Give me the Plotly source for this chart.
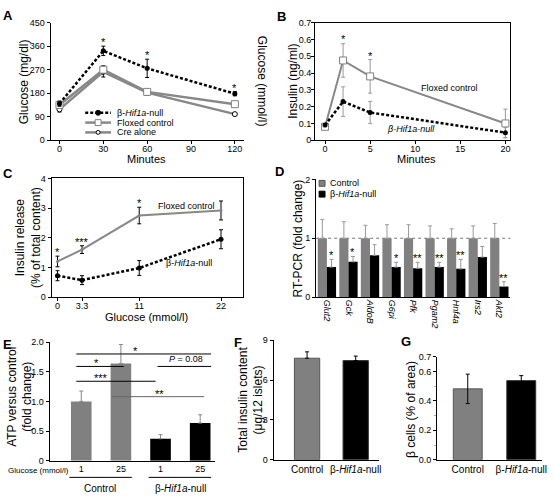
import plotly.graph_objects as go

W, H = 555, 500
def px(x): return x / W
def py(y): return 1 - y / H

FONT = "Liberation Sans, Arial, Helvetica, sans-serif"
GREY = "#808080"
LINEGREY = "#888888"

# ---------------- Panel A: glucose tolerance ----------------
a_minutes = [0, 30, 60, 120]
a_null = [140, 342, 275, 178]
a_null_err = [10, 18, 35, 8]
a_floxed = [135, 270, 185, 138]
a_floxed_err = [8, 15, 10, 5]
a_cre = [118, 262, 182, 100]
a_cre_err = [10, 20, 10, 4]
a_star_x = [30, 60, 120]
a_star_y = [360, 310, 185]
a_legend = ["β-<i>Hif1a</i>-null", "Floxed control", "Cre alone"]

# ---------------- Panel B: insulin in vivo ----------------
b_minutes = [0, 2, 5, 20]
b_floxed = [0.08, 0.475, 0.38, 0.10]
b_floxed_err = [0.01, 0.10, 0.10, 0.085]
b_null = [0.09, 0.23, 0.165, 0.045]
b_null_err = [0.01, 0.088, 0.066, 0.03]
b_star_x = [2, 5]
b_star_y = [0.578, 0.48]

# ---------------- Panel C: insulin release ----------------
c_glucose = [0, 3.3, 11, 22]
c_glucose_labels = ["0", "3.3", "11", "22"]
c_floxed = [1.2, 1.6, 2.75, 2.92]
c_floxed_err = [0.18, 0.13, 0.28, 0.32]
c_null = [0.72, 0.57, 0.98, 1.95]
c_null_err = [0.17, 0.15, 0.25, 0.32]
c_stars = ["*", "***", "*"]
c_star_y = [1.38, 1.73, 3.03]

# ---------------- Panel D: RT-PCR ----------------
d_genes = ["Glut2", "Gck", "AldoB", "G6pi", "Pfk", "Pgam2", "Hnf4a", "Irs2", "Akt2"]
d_control = [1.0, 1.0, 1.0, 1.0, 1.0, 1.0, 1.0, 1.0, 1.0]
d_control_err = [0.32, 0.28, 0.22, 0.23, 0.23, 0.21, 0.16, 0.21, 0.25]
d_null = [0.51, 0.60, 0.71, 0.51, 0.49, 0.51, 0.48, 0.68, 0.18]
d_null_err = [0.13, 0.09, 0.18, 0.08, 0.10, 0.08, 0.16, 0.18, 0.08]
d_stars = ["*", "*", "", "*", "**", "**", "**", "", "**"]
d_legend = ["Control", "β-<i>Hif1a</i>-null"]

# ---------------- Panel E: ATP ----------------
e_glucose = ["1", "25", "1", "25"]
e_control = [1.0, 1.64]
e_control_err = [0.175, 0.32]
e_null = [0.37, 0.635]
e_null_err = [0.07, 0.14]

# ---------------- Panel F: total insulin content ----------------
f_groups = ["Control", "β-<i>Hif1a</i>-null"]
f_vals = [7.64, 7.46]
f_err = [0.48, 0.34]

# ---------------- Panel G: beta cell area ----------------
g_vals = [0.482, 0.538]
g_err = [0.1, 0.034]

fig = go.Figure()

def ebar(vals, color, sym=True):
    d = dict(type="data", array=vals, color=color, thickness=1, width=2, visible=True)
    if not sym:
        d["symmetric"] = False
        d["arrayminus"] = [0] * len(vals)
    return d

# A traces
fig.add_trace(go.Scatter(x=a_minutes, y=a_cre, name=a_legend[2], mode="lines+markers",
    line=dict(color=LINEGREY, width=2.5),
    marker=dict(symbol="circle", size=5, color="white", line=dict(color="black", width=1)),
    error_y=ebar(a_cre_err, "black"), xaxis="x", yaxis="y"))
fig.add_trace(go.Scatter(x=a_minutes, y=a_floxed, name=a_legend[1], mode="lines+markers",
    line=dict(color=LINEGREY, width=2.5),
    marker=dict(symbol="square", size=7, color="white", line=dict(color=GREY, width=1)),
    error_y=ebar(a_floxed_err, "black"), xaxis="x", yaxis="y"))
fig.add_trace(go.Scatter(x=a_minutes, y=a_null, name=a_legend[0], mode="lines+markers",
    line=dict(color="black", width=2.5, dash="3px,2px"),
    marker=dict(symbol="circle", size=5, color="black"),
    error_y=ebar(a_null_err, "black"), xaxis="x", yaxis="y"))

# B traces
fig.add_trace(go.Scatter(x=b_minutes, y=b_floxed, mode="lines+markers",
    line=dict(color=LINEGREY, width=2),
    marker=dict(symbol="square", size=7, color="white", line=dict(color=GREY, width=1)),
    error_y=ebar(b_floxed_err, "#999999"), xaxis="x2", yaxis="y3"))
fig.add_trace(go.Scatter(x=b_minutes, y=b_null, mode="lines+markers",
    line=dict(color="black", width=2.5, dash="3px,2px"),
    marker=dict(symbol="circle", size=5, color="black"),
    error_y=ebar(b_null_err, "#999999"), xaxis="x2", yaxis="y3"))

# C traces
fig.add_trace(go.Scatter(x=c_glucose, y=c_floxed, mode="lines+markers",
    line=dict(color=LINEGREY, width=2),
    marker=dict(symbol="circle", size=3, color=GREY),
    error_y=ebar(c_floxed_err, "black"), xaxis="x3", yaxis="y4"))
fig.add_trace(go.Scatter(x=c_glucose, y=c_null, mode="lines+markers",
    line=dict(color="black", width=2.5, dash="3px,2px"),
    marker=dict(symbol="circle", size=5, color="black"),
    error_y=ebar(c_null_err, "black"), xaxis="x3", yaxis="y4"))

# D traces
fig.add_trace(go.Bar(x=d_genes, y=d_control, name=d_legend[0], marker=dict(color=GREY, line=dict(width=0)),
    error_y=ebar(d_control_err, "#999999", sym=False), xaxis="x4", yaxis="y5"))
fig.add_trace(go.Bar(x=d_genes, y=d_null, name=d_legend[1], marker=dict(color="black", line=dict(width=0)),
    error_y=ebar(d_null_err, "#999999", sym=False), xaxis="x4", yaxis="y5"))

# E traces
fig.add_trace(go.Bar(x=[0, 1], y=e_control, width=0.52, offsetgroup="e",
    marker=dict(color=GREY, line=dict(width=0)),
    error_y=ebar(e_control_err, "#888888", sym=False), xaxis="x5", yaxis="y6"))
fig.add_trace(go.Bar(x=[2, 3], y=e_null, width=0.52, offsetgroup="e",
    marker=dict(color="black", line=dict(width=0)),
    error_y=ebar(e_null_err, "#888888", sym=False), xaxis="x5", yaxis="y6"))

# F traces
fig.add_trace(go.Bar(x=[0], y=f_vals[:1], width=0.52, offsetgroup="f",
    marker=dict(color=GREY, line=dict(color="#555555", width=1)),
    error_y=ebar(f_err[:1], "black", sym=False), xaxis="x6", yaxis="y7"))
fig.add_trace(go.Bar(x=[1], y=f_vals[1:], width=0.52, offsetgroup="f",
    marker=dict(color="black", line=dict(color="#333333", width=1)),
    error_y=ebar(f_err[1:], "black", sym=False), xaxis="x6", yaxis="y7"))

# G traces
fig.add_trace(go.Bar(x=[0], y=g_vals[:1], width=0.54, offsetgroup="g",
    marker=dict(color=GREY, line=dict(color="#555555", width=1)),
    error_y=ebar(g_err[:1], "black"), xaxis="x7", yaxis="y8"))
fig.add_trace(go.Bar(x=[1], y=g_vals[1:], width=0.54, offsetgroup="g",
    marker=dict(color="black", line=dict(color="#333333", width=1)),
    error_y=ebar(g_err[1:], "black"), xaxis="x7", yaxis="y8"))


def ax(**kw):
    base = dict(showline=True, linecolor="black", linewidth=1, ticks="outside", ticklen=3,
                tickwidth=1, tickcolor="black", showgrid=False, zeroline=False,
                tickfont=dict(size=9, color="black", family=FONT), fixedrange=True)
    base.update(kw)
    return base

XS = -3  # pull x tick labels a little closer to the axis

layout = dict(
    width=W, height=H, margin=dict(l=0, r=0, t=0, b=0),
    paper_bgcolor="white", plot_bgcolor="rgba(0,0,0,0)",
    font=dict(family=FONT, color="black", size=9),
    barmode="group", bargap=0.15, bargroupgap=0, showlegend=False,
    # A
    xaxis=ax(domain=[px(51), px(246)], range=[-6.1, 126.1], tickvals=[0, 30, 60, 90, 120], anchor="y",
             ticklabelstandoff=XS),
    yaxis=ax(domain=[py(138), py(18)], range=[0, 450], tickvals=[0, 90, 180, 270, 360, 450], anchor="x"),
    yaxis2=ax(domain=[py(138), py(18)], range=[0, 25], tickvals=[0, 5, 10, 15, 20, 25], anchor="x",
              overlaying="y", side="right"),
    # B
    xaxis2=ax(domain=[px(318), px(515)], range=[-1.1, 20.55], tickvals=[0, 5, 10, 15, 20], anchor="y3",
              mirror=True, ticklabelstandoff=XS),
    yaxis3=ax(domain=[py(138), py(18)], range=[0, 0.7], dtick=0.1, anchor="x2", mirror=True,
              ticklabelstandoff=-2),
    # C
    xaxis3=ax(domain=[px(52), px(245)], range=[-0.8, 24.93], tickvals=c_glucose, ticktext=c_glucose_labels,
              anchor="y4", mirror=True, ticklabelstandoff=XS),
    yaxis4=ax(domain=[py(298), py(177)], range=[0, 4], dtick=1, anchor="x3", mirror=True),
    # D
    xaxis4=ax(domain=[px(319), px(515)], anchor="y5", ticks="", tickangle=90,
              tickvals=d_genes, ticktext=["<i>%s</i>" % g for g in d_genes]),
    yaxis5=ax(domain=[py(298), py(178)], range=[0, 2], tickvals=[0, 1, 2], anchor="x4"),
    # E
    xaxis5=ax(domain=[px(50), px(217)], range=[-0.8, 3.375], tickvals=[0, 1, 2, 3], ticktext=e_glucose,
              ticks="", anchor="y6", ticklabelstandoff=-1),
    yaxis6=ax(domain=[py(465), py(344)], range=[0, 2.0], tickvals=[0, 0.5, 1.0, 1.5, 2.0],
              ticktext=["0", "0.5", "1.0", "1.5", "2.0"], anchor="x5"),
    # F
    xaxis6=ax(domain=[px(276), px(382)], range=[-0.69, 1.47], tickvals=[0, 1], ticktext=f_groups,
              ticks="", anchor="y7", tickfont=dict(size=10, color="black", family=FONT)),
    yaxis7=ax(domain=[py(464), py(342)], range=[0, 9], tickvals=[0, 3, 6, 9], anchor="x6"),
    # G
    xaxis7=ax(domain=[px(441), px(547)], range=[-0.574, 1.389], tickvals=[0, 1], ticktext=f_groups,
              ticks="", anchor="y8", tickfont=dict(size=10, color="black", family=FONT)),
    yaxis8=ax(domain=[py(464), py(359)], range=[0, 0.7], tickvals=[0, 0.2, 0.4, 0.6, 0.7],
              ticktext=["0.0", "0.2", "0.4", "0.6", "0.7"], anchor="x7",
              minor=dict(tickvals=[0.1, 0.3, 0.5], ticklen=2, tickcolor="#aaaaaa", ticks="outside")),
)
fig.update_layout(**layout)

ann = []
def note(text, x, y, size=11, angle=0, xref="paper", yref="paper", **kw):
    if xref == "paper":
        x = px(x)
    if yref == "paper":
        y = py(y)
    d = dict(text=text, x=x, y=y, xref=xref, yref=yref, showarrow=False, textangle=angle,
             font=dict(size=size, family=FONT, color="black"), xanchor="center", yanchor="middle")
    d.update(kw)
    ann.append(d)

shapes = []
def pline(x0, x1, y0, y1, color="black", width=1, dash=None):
    ln = dict(color=color, width=width)
    if dash:
        ln["dash"] = dash
    shapes.append(dict(type="line", xref="paper", yref="paper", x0=px(x0), x1=px(x1),
                       y0=py(y0), y1=py(y1), line=ln))

def pbox(kind, x0, y0, x1, y1, fill, edge, width=1):
    shapes.append(dict(type=kind, xref="paper", yref="paper", x0=px(x0), x1=px(x1),
                       y0=py(y1), y1=py(y0), fillcolor=fill, line=dict(color=edge, width=width)))

# panel letters
for letter, x, y in [("A", 8, 11), ("B", 284, 12), ("C", 8, 172), ("D", 282, 170),
                     ("E", 8, 346), ("F", 240, 344), ("G", 410, 343)]:
    note("<b>%s</b>" % letter, x, y, size=13)

# axis titles
note("Glucose (mg/dl)", 25, 78, size=12, angle=-90)
note("Glucose (mmol/l)", 264, 78, size=12, angle=90)
note("Minutes", 148, 157)
note("Insulin (ng/ml)", 296, 78, size=12, angle=-90)
note("Minutes", 420, 157)
note("Insulin release<br>(% of total content)", 29, 237, size=12, angle=-90)
note("Glucose (mmol/l)", 148, 318)
note("RT-PCR (fold change)", 301, 238, size=12, angle=-90)
note("ATP versus control<br>(fold change)", 20, 400, size=12, angle=-90)
note("Total insulin content<br>(μg/12 islets)", 253, 403, size=12, angle=-90)
note("β cells (<i>%</i> of area)", 414, 413, size=12, angle=-90)

# legend A (compact, drawn by hand)
pline(86, 112, 110, 110, "black", 2.5, "3px,2px")
pbox("circle", 96.5, 107.5, 101.5, 112.5, "black", "black")
pline(86, 112, 120, 120, LINEGREY, 2.5)
pbox("rect", 96, 117, 102, 123, "white", GREY)
pline(86, 112, 130, 130, LINEGREY, 2.5)
pbox("circle", 97, 128, 101, 132, "white", "black")
for lab, y in zip(a_legend, [110, 120, 130]):
    note(lab, 116, y, size=9, xanchor="left")

# legend D
pbox("rect", 322, 179, 328, 185, GREY, "#555555")
pbox("rect", 322, 190, 328, 196, "black", "black")
for lab, y in zip(d_legend, [182, 193]):
    note(lab, 331, y, size=9, xanchor="left")

# series labels
note("Floxed control", 454, 85, size=9)
note("<i>β-Hif1a-null</i>", 415, 127, size=9)
note("Floxed control", 188, 205, size=9)
note("β-<i>Hif1a</i>-null", 191, 263, size=9)

# stars
for x, y in zip(a_star_x, a_star_y):
    note("*", x, y, size=11, xref="x", yref="y", yanchor="bottom", yshift=-4)
for x, y in zip(b_star_x, b_star_y):
    note("*", x, y, size=11, xref="x2", yref="y3", yanchor="bottom", yshift=-4)
for x, y, s in zip(c_glucose, c_star_y, c_stars):
    note(s, x, y, size=11, xref="x3", yref="y4", yanchor="bottom", yshift=-4)
for i, (v, e, s) in enumerate(zip(d_null, d_null_err, d_stars)):
    if s:
        note(s, i + 0.21, v + e, size=11, xref="x4", yref="y5", yanchor="bottom", yshift=-4)

# E significance bars
e_sig = [(-0.125, 3.275, 1.80, "*", 1.375, "black"),
         (-0.125, 1.075, 1.59, "*", 0.375, "black"),
         (-0.125, 1.875, 1.34, "***", 0.5, "black"),
         (0.775, 3.1, 1.08, "**", 1.975, "#666666"),
         (1.925, 3.275, 1.59, "<i>P</i> = 0.08", 2.65, "black")]
for x0, x1, y, lab, lx, col in e_sig:
    shapes.append(dict(type="line", xref="x5", yref="y6", x0=x0, x1=x1, y0=y, y1=y,
                       line=dict(color=col, width=1)))
    if lab.startswith("<i>"):
        note(lab, lx, y, size=9, xref="x5", yref="y6", yanchor="bottom", yshift=0)
    else:
        note(lab, lx, y, size=11, xref="x5", yref="y6", yanchor="bottom", yshift=-5)

note("Glucose (mmol/l)", 39, 475, size=8)
pline(70, 133, 482, 482)
pline(150, 213, 482, 482)
note("Control", 101, 493, size=10)
note("β-<i>Hif1a</i>-null", 182, 493, size=10)

# D reference line at 1
shapes.append(dict(type="line", xref="x4 domain", yref="y5", x0=0, x1=1, y0=1, y1=1,
                   line=dict(color="#777777", width=1, dash="dot"), layer="below"))

fig.update_layout(annotations=ann, shapes=shapes)
fig.write_html("out.html", config={"displayModeBar": False},
               post_script="document.body.style.margin='0';document.body.style.overflow='hidden';")
